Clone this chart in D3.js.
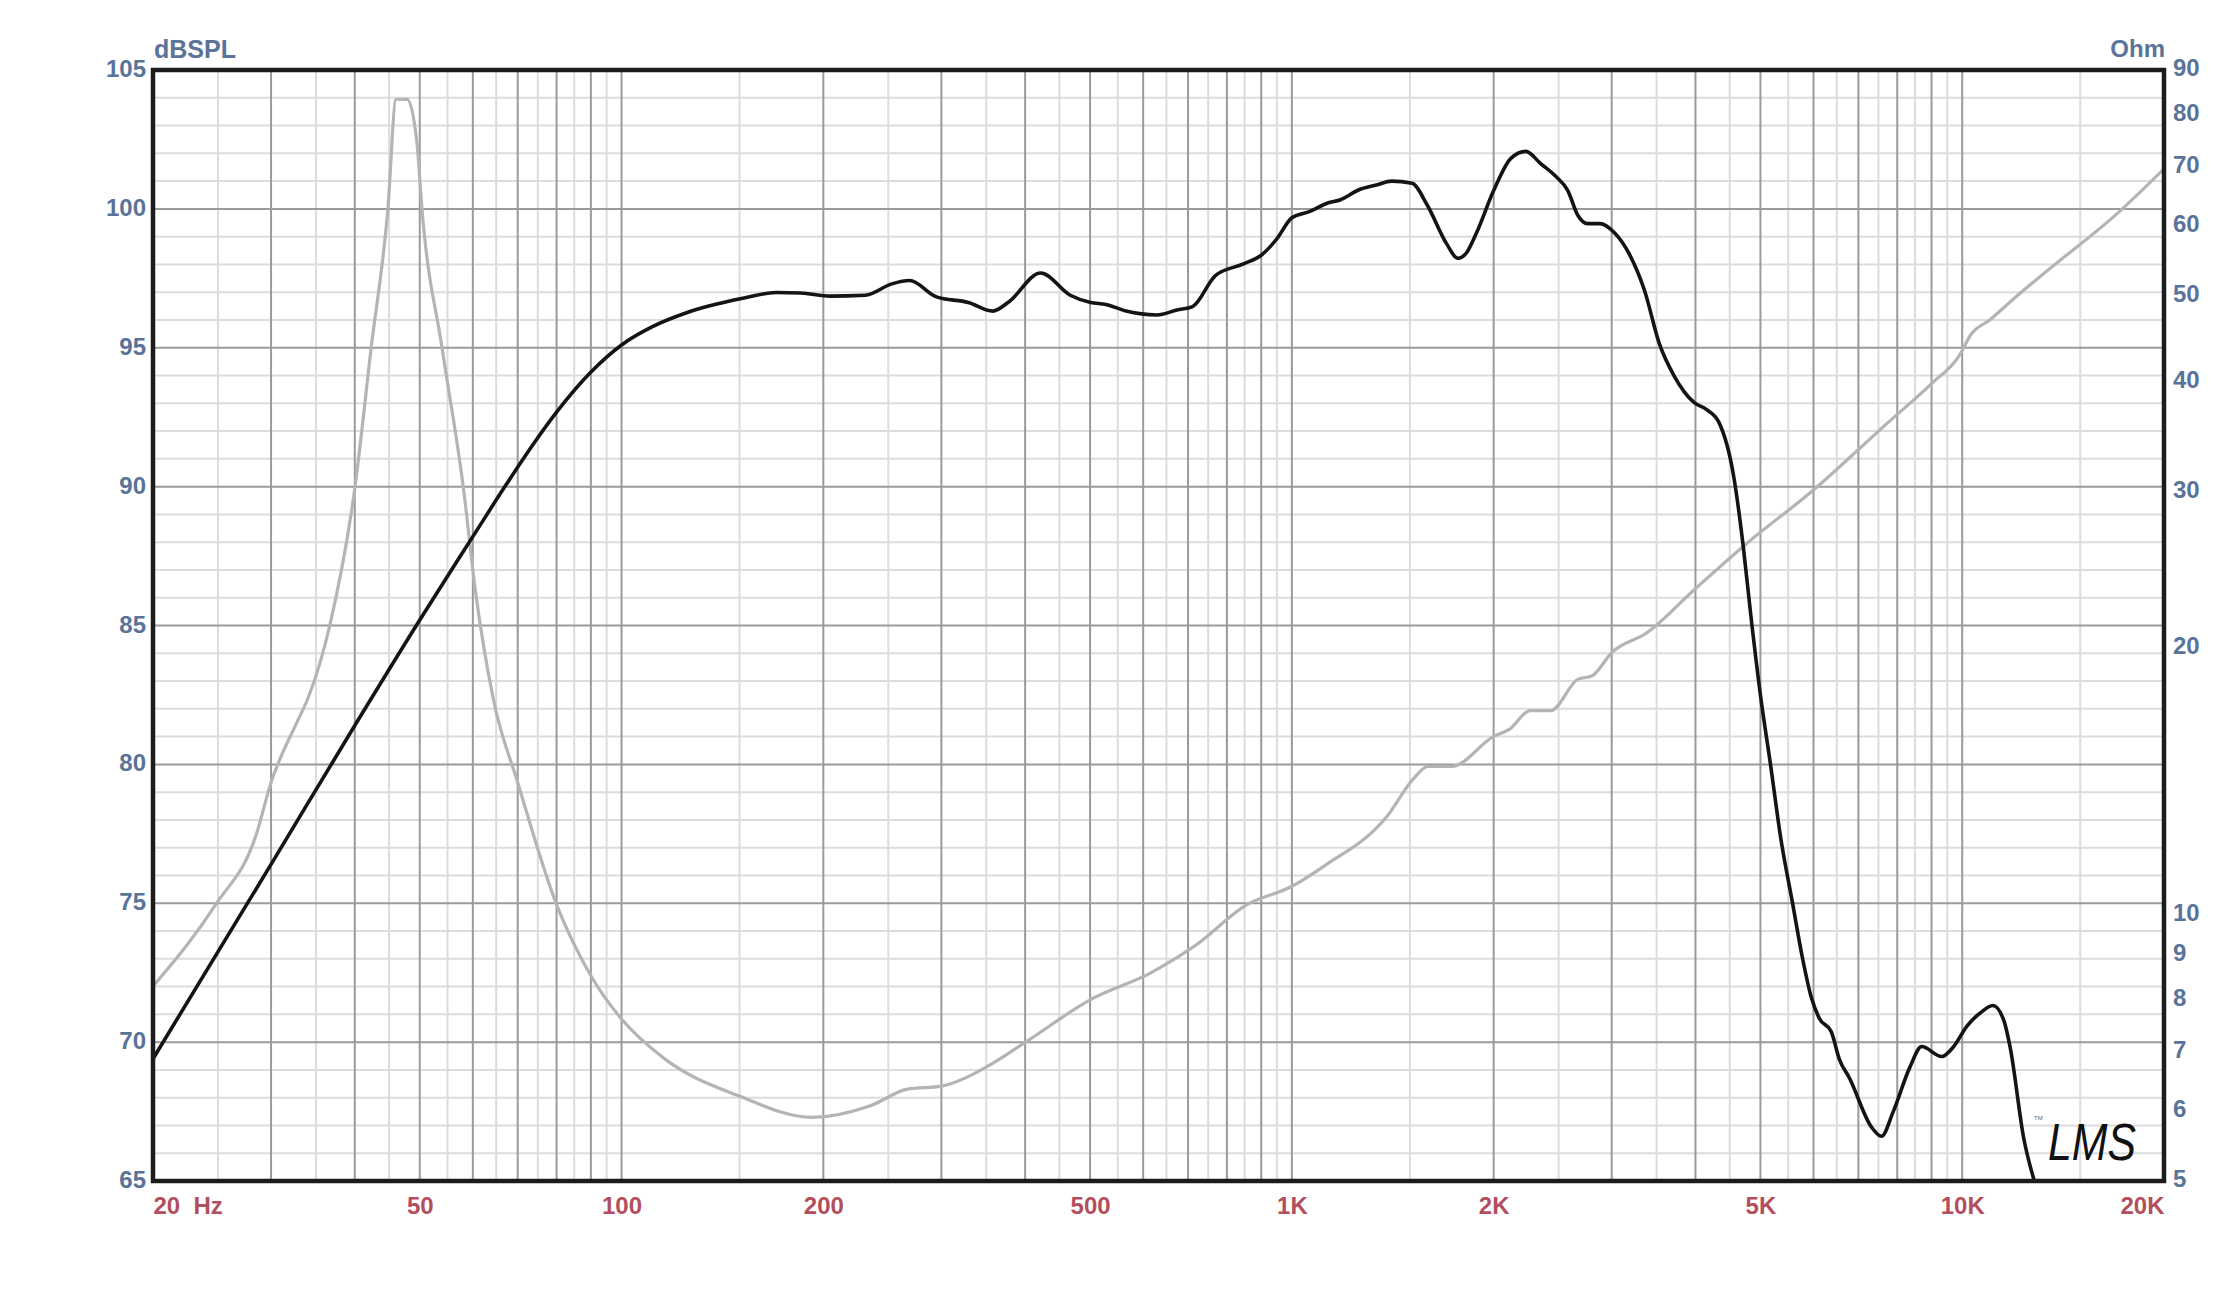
<!DOCTYPE html>
<html>
<head>
<meta charset="utf-8">
<script src="https://cdn.jsdelivr.net/npm/d3@7"></script>
<style>
  body { margin: 0; background: #ffffff; }
  svg { display: block; }
  text { font-family: "Liberation Sans", Arial, sans-serif; }
</style>
</head>
<body>
<svg id="chart" width="2230" height="1290"></svg>
<script>
// ---- Data ----
const splFreq = [20, 30, 40, 50, 60, 67.4, 73.7, 80.1, 89.8, 100, 111, 125, 151, 170, 185, 205, 231, 253, 269, 295, 329, 358, 378, 422, 467, 501, 528, 566, 629, 674, 711, 769, 847, 901, 949, 1000, 1064, 1131, 1182, 1257, 1337, 1408, 1511, 1591, 1702, 1769, 1822, 1885, 2000, 2122, 2234, 2350, 2473, 2580, 2670, 2761, 2881, 3031, 3189, 3357, 3533, 3717, 3980, 4152, 4332, 4559, 4716, 4831, 5000, 5178, 5362, 5580, 5778, 5947, 6122, 6376, 6560, 6791, 7318, 7577, 7888, 8356, 8701, 9322, 9710, 10164, 10638, 11118, 11536, 11799, 12355, 12791];
const splDb = [69.4, 76.4, 81.4, 85.2, 88.2, 90.1, 91.5, 92.7, 94.1, 95.1, 95.75, 96.26, 96.77, 96.99, 96.97, 96.86, 96.89, 97.3, 97.42, 96.83, 96.63, 96.32, 96.65, 97.69, 96.89, 96.63, 96.56, 96.32, 96.18, 96.36, 96.48, 97.6, 98.02, 98.34, 98.91, 99.68, 99.91, 100.21, 100.33, 100.68, 100.86, 101.0, 100.92, 100.15, 98.74, 98.22, 98.42, 99.13, 100.66, 101.82, 102.07, 101.63, 101.18, 100.66, 99.77, 99.47, 99.47, 99.13, 98.36, 97.07, 95.15, 93.99, 93.03, 92.78, 92.33, 90.4, 87.8, 85.5, 82.5, 79.97, 77.34, 75.04, 73.02, 71.66, 70.85, 70.38, 69.37, 68.7, 66.95, 66.61, 67.49, 69.1, 69.84, 69.48, 69.84, 70.58, 71.05, 71.32, 70.78, 69.77, 66.53, 65.05];

const impFreq = [20, 24.8, 28.5, 30, 32.8, 34.0, 36.7, 40, 42.3, 44.8, 46.1, 47.9, 49.5, 50.4, 54.0, 58.1, 60.5, 64.4, 70, 80, 90, 100, 116, 149.5, 192.5, 235, 267, 300, 353, 400, 503, 617, 717, 857, 997, 1120, 1384, 1520, 1594, 1730, 2000, 2113, 2267, 2432, 2673, 2802, 3006, 3381, 3987, 4809, 5944, 7697, 9000, 9900, 10300, 11000, 11994, 13850, 16846, 20000];
const impOhm = [8.3, 10.26, 12.3, 14.1, 16.5, 17.5, 21.2, 30.3, 43.6, 62.5, 83.4, 83.4, 74.7, 62.5, 43.6, 30.3, 23.3, 17.5, 14.1, 10.26, 8.53, 7.62, 6.87, 6.24, 5.9, 6.08, 6.35, 6.4, 6.75, 7.17, 8.03, 8.6, 9.22, 10.26, 10.75, 11.36, 12.89, 14.25, 14.7, 14.7, 15.9, 16.2, 17.0, 17.0, 18.45, 18.6, 19.8, 20.8, 23.3, 26.4, 30.0, 35.8, 39.8, 42.8, 45.2, 47.0, 49.8, 54.5, 61.5, 69.6];

const xTickValues = [20, 50, 100, 200, 500, 1000, 2000, 5000, 10000, 20000];
const xTickLabels = ["20  Hz", "50", "100", "200", "500", "1K", "2K", "5K", "10K", "20K"];
const dbTicks = [65, 70, 75, 80, 85, 90, 95, 100, 105];
const ohmTicks = [5, 6, 7, 8, 9, 10, 20, 30, 40, 50, 60, 70, 80, 90];

// ---- Layout ----
const L = 153, R = 2164, T = 70, B = 1181;
const svg = d3.select("#chart");

const x = d3.scaleLog().domain([20, 20000]).range([L, R]);
const y = d3.scaleLinear().domain([65, 105]).range([B, T]);
const yO = d3.scaleLog().domain([5, 90]).range([B, T]);

// ---- Grid ----
const grid = svg.append("g");
const majorF = x.ticks().filter(t => t > 20 && t < 20000);
const minorF = x.ticks().filter(t => t < 20000).map(t => t + Math.pow(10, Math.floor(Math.log10(t) + 1e-9)) / 2);
const dbAll = d3.range(66, 105, 1);

grid.selectAll("line.hmin").data(dbAll.filter(d => d % 5 !== 0)).join("line")
  .attr("x1", L).attr("x2", R).attr("y1", d => y(d)).attr("y2", d => y(d))
  .attr("stroke", "#dcdcdc").attr("stroke-width", 2);
grid.selectAll("line.vmin").data(minorF).join("line")
  .attr("y1", T).attr("y2", B).attr("x1", d => x(d)).attr("x2", d => x(d))
  .attr("stroke", "#dcdcdc").attr("stroke-width", 2);
grid.selectAll("line.hmaj").data(dbAll.filter(d => d % 5 === 0)).join("line")
  .attr("x1", L).attr("x2", R).attr("y1", d => y(d)).attr("y2", d => y(d))
  .attr("stroke", "#9a9a9a").attr("stroke-width", 2);
grid.selectAll("line.vmaj").data(majorF).join("line")
  .attr("y1", T).attr("y2", B).attr("x1", d => x(d)).attr("x2", d => x(d))
  .attr("stroke", "#9a9a9a").attr("stroke-width", 2);

// ---- Curves ----
svg.append("clipPath").attr("id", "plotclip").append("rect")
  .attr("x", L).attr("y", T).attr("width", R - L).attr("height", B - T);

const impData = impFreq.map((f, i) => [f, impOhm[i]]);
const splData = splFreq.map((f, i) => [f, splDb[i]]);

svg.append("path").datum(impData)
  .attr("clip-path", "url(#plotclip)")
  .attr("fill", "none").attr("stroke", "#b4b4b4").attr("stroke-width", 3.2)
  .attr("stroke-linejoin", "round")
  .attr("d", d3.line().x(d => x(d[0])).y(d => yO(d[1])).curve(d3.curveMonotoneX));

svg.append("path").datum(splData)
  .attr("clip-path", "url(#plotclip)")
  .attr("fill", "none").attr("stroke", "#141414").attr("stroke-width", 3.6)
  .attr("stroke-linejoin", "round")
  .attr("d", d3.line().x(d => x(d[0])).y(d => y(d[1])).curve(d3.curveMonotoneX));

// ---- Border ----
svg.append("rect").attr("x", L).attr("y", T).attr("width", R - L).attr("height", B - T)
  .attr("fill", "none").attr("stroke", "#1c1c1c").attr("stroke-width", 4.5);

// ---- Axes ----
const blue = "#5a7398", red = "#b24e5e";

const xAxis = svg.append("g").attr("transform", `translate(0,${B})`)
  .call(d3.axisBottom(x).tickValues(xTickValues).tickSize(0).tickPadding(0)
    .tickFormat((d, i) => xTickLabels[i]));
xAxis.select(".domain").remove();
xAxis.selectAll("text")
  .attr("y", 24).attr("dy", null)
  .attr("dominant-baseline", "central")
  .style("white-space", "pre")
  .attr("fill", red).attr("font-size", 24).attr("font-weight", "bold")
  .attr("font-family", "'Liberation Sans', Arial, sans-serif")
  .attr("text-anchor", (d, i) => i === 0 ? "start" : (i === xTickValues.length - 1 ? "end" : "middle"));

const yAxis = svg.append("g").attr("transform", `translate(${L},0)`)
  .call(d3.axisLeft(y).tickValues(dbTicks).tickSize(0).tickPadding(7));
yAxis.select(".domain").remove();
yAxis.selectAll("text")
  .attr("dy", null).attr("y", -2).attr("dominant-baseline", "central")
  .attr("fill", blue).attr("font-size", 24).attr("font-weight", "bold")
  .attr("font-family", "'Liberation Sans', Arial, sans-serif");

const rAxis = svg.append("g").attr("transform", `translate(${R},0)`)
  .call(d3.axisRight(yO).tickValues(ohmTicks).tickSize(0).tickPadding(9).tickFormat(d3.format("d")));
rAxis.select(".domain").remove();
rAxis.selectAll("text")
  .attr("dy", null).attr("y", -3).attr("dominant-baseline", "central")
  .attr("fill", blue).attr("font-size", 24).attr("font-weight", "bold")
  .attr("font-family", "'Liberation Sans', Arial, sans-serif");

// ---- Unit titles ----
svg.append("text").attr("x", L + 1).attr("y", 49).attr("dominant-baseline", "central")
  .attr("fill", blue).attr("font-size", 25).attr("font-weight", "bold").text("dBSPL");
svg.append("text").attr("x", R + 1).attr("y", 48).attr("dominant-baseline", "central")
  .attr("text-anchor", "end")
  .attr("fill", blue).attr("font-size", 24).attr("font-weight", "bold").text("Ohm");

// ---- LMS signature ----
svg.append("text").attr("x", 2048).attr("y", 1160)
  .attr("font-family", "'DejaVu Sans', sans-serif").attr("font-style", "italic")
  .attr("font-size", 52).attr("font-weight", 200)
  .attr("fill", "#111")
  .attr("textLength", 88).attr("lengthAdjust", "spacingAndGlyphs")
  .text("LMS");
svg.append("text").attr("x", 2034).attr("y", 1120)
  .attr("font-size", 6).attr("fill", "#666").text("TM");
</script>
</body>
</html>
